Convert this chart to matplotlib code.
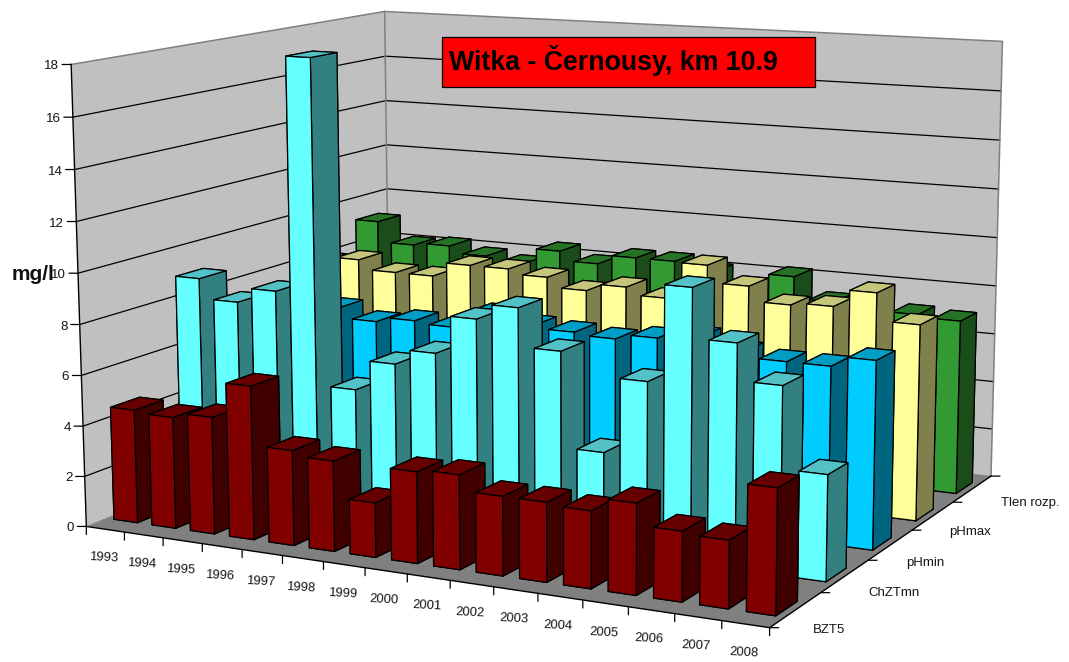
import numpy as np
import matplotlib
matplotlib.use('Agg')
import matplotlib.pyplot as plt
from matplotlib.patches import Rectangle
from mpl_toolkits.mplot3d.art3d import Poly3DCollection

plt.rcParams['font.family'] = ['Liberation Sans', 'DejaVu Sans']

years = ['1993', '1994', '1995', '1996', '1997', '1998', '1999', '2000',
         '2001', '2002', '2003', '2004', '2005', '2006', '2007', '2008']
series = ['BZT5', 'ChZTmn', 'pHmin', 'pHmax', 'Tlen rozp.']
z_ticks = [0, 2, 4, 6, 8, 10, 12, 14, 16, 18]

bzt5 = [4.5, 4.4, 4.6, 6.0, 3.7, 3.5, 2.1, 3.5, 3.6, 3.0, 3.0, 2.9, 3.4, 2.6, 2.5, 4.6]
chztmn = [8.9, 8.1, 8.7, 18.0, 5.1, 6.3, 6.9, 8.4, 9.0, 7.5, 3.8, 6.7, 10.4, 8.5, 7.1, 4.0]
phmin = [6.3, 6.4, 7.2, 6.8, 7.0, 6.9, 7.6, 7.3, 7.2, 7.1, 7.3, 7.5, 7.1, 6.9, 6.9, 7.3]
phmax = [8.1, 8.3, 7.9, 7.9, 8.5, 8.5, 8.3, 7.9, 8.2, 7.9, 9.4, 8.7, 8.1, 8.2, 8.9, 7.8]
tlen = [9.1, 8.2, 8.3, 8.0, 7.8, 8.5, 8.1, 8.5, 8.5, 8.2, 7.7, 8.3, 7.4, 7.7, 7.2, 7.1]
rows = [bzt5, chztmn, phmin, phmax, tlen]

# (front, top, side) shades per series
shades = [('#800000', '#660000', '#400000'),
          ('#66FFFF', '#52C2C6', '#338080'),
          ('#00CCFF', '#009EC4', '#006680'),
          ('#FFFF99', '#C6C67A', '#80804D'),
          ('#339933', '#267326', '#1A4D1A')]

W, H = 1069, 662
fig = plt.figure(figsize=(W / 100, H / 100), dpi=100)
ax = fig.add_axes([3.3 / W, -166.7 / H, 1, W / H], projection='3d',
                  computed_zorder=False)
nx, ny, zmax = len(years), len(series), z_ticks[-1]
ax.set_xlim(0, nx)
ax.set_ylim(0, ny)
ax.set_zlim(0, zmax)
ax.view_init(10.6913, -62.6848, 0.1321)
ax.set_box_aspect((1, .8077, .6258), zoom=.9455)
ax.set_proj_type('persp', focal_length=.5071)
ax.set_axis_off()
ax.patch.set_alpha(0)
M = ax.get_proj()


def project(x, y, z):
    q = M @ np.array([x, y, z, 1.0])
    return q[0] / q[3], q[1] / q[3]


def label(text, pos, offset, **kw):
    ax.annotate(text, xy=project(*pos), xytext=offset, textcoords='offset pixels',
                annotation_clip=False, color='#151515', **kw)


def tick(pos, offset):
    ax.annotate('', xy=project(*pos), xytext=offset, textcoords='offset pixels',
                annotation_clip=False,
                arrowprops=dict(arrowstyle='-', color='black', lw=.9,
                                shrinkA=0, shrinkB=0))


# Walls and floor
wall = '#C0C0C0'
ax.add_collection3d(Poly3DCollection(
    [[(0, 0, 0), (0, ny, 0), (0, ny, zmax), (0, 0, zmax)],
     [(0, ny, 0), (nx, ny, 0), (nx, ny, zmax), (0, ny, zmax)]],
    facecolors=wall, edgecolors='none', zorder=1), autolim=False)
ax.add_collection3d(Poly3DCollection(
    [[(0, 0, 0), (nx, 0, 0), (nx, ny, 0), (0, ny, 0)]],
    facecolors='#808080', edgecolors='none', zorder=3), autolim=False)

for z in z_ticks[1:-1]:
    ax.plot([0, 0, nx], [0, ny, ny], [z, z, z], color='black', lw=.9, zorder=2)
ax.plot([0, 0, nx, nx], [0, ny, ny, ny], [zmax, zmax, zmax, 0],
        color='#808080', lw=1.1, zorder=2)
ax.plot([0, 0], [ny, ny], [0, zmax], color='#808080', lw=1.1, zorder=2)
ax.plot([0, 0, nx], [0, ny, ny], [0, 0, 0], color='#606060', lw=.8, ls=':', zorder=2)
ax.plot([0, 0, nx, nx], [0, 0, 0, ny], [zmax, 0, 0, 0], color='black', lw=1, zorder=4)

# Bars, painted from the far corner towards the viewer
bar_w, bar_d = .62, .42
x0, y0 = .19, .29
order = 5
for s in range(ny - 1, -1, -1):
    front, top, side = shades[s]
    for i in range(nx):
        bars = ax.bar3d(i + x0, s + y0, 0, bar_w, bar_d, rows[s][i], shade=False,
                        color=[front, top, front, front, side, side],
                        edgecolor='black', linewidth=.9)
        bars.set_zorder(order)
        order += 1

# Axis ticks and labels
for z in z_ticks:
    tick((0, 0, z), (-9, 0))
    label(str(z), (0, 0, z), (-12, -2), ha='right', va='center', fontsize=9.6)

for i in range(nx + 1):
    tick((i, 0, 0), (0, -8))
for i, year in enumerate(years):
    label(year, (i + .5, 0, 0), (-2, -29), ha='center', va='center', fontsize=9.4,
          rotation=-3, rotation_mode='anchor')

for s in range(ny + 1):
    tick((nx, s, 0), (9, 0))
series_label_shift = [(17, -20), (24, -17), (16, -18), (16, -16), (29, -14)]
for s, name in enumerate(series):
    label(name, (nx, s + .5, 0), series_label_shift[s], ha='left', va='center', fontsize=9.5)

fig.text(12 / W, 1 - 275 / H, 'mg/l', fontsize=15, fontweight='bold', ha='left',
         va='center', color='#111111', zorder=6)

# Title panel
fig.add_artist(Rectangle((442 / W, 1 - 87 / H), 373 / W, 50 / H, transform=fig.transFigure,
                         facecolor='#FF0000', edgecolor='black', lw=.9, zorder=7))
fig.text(449 / W, 1 - 61 / H, 'Witka - Černousy, km 10.9', fontsize=19.3, fontweight='bold',
         ha='left', va='center', color='black', zorder=8)

fig.savefig('out.png', dpi=100)
